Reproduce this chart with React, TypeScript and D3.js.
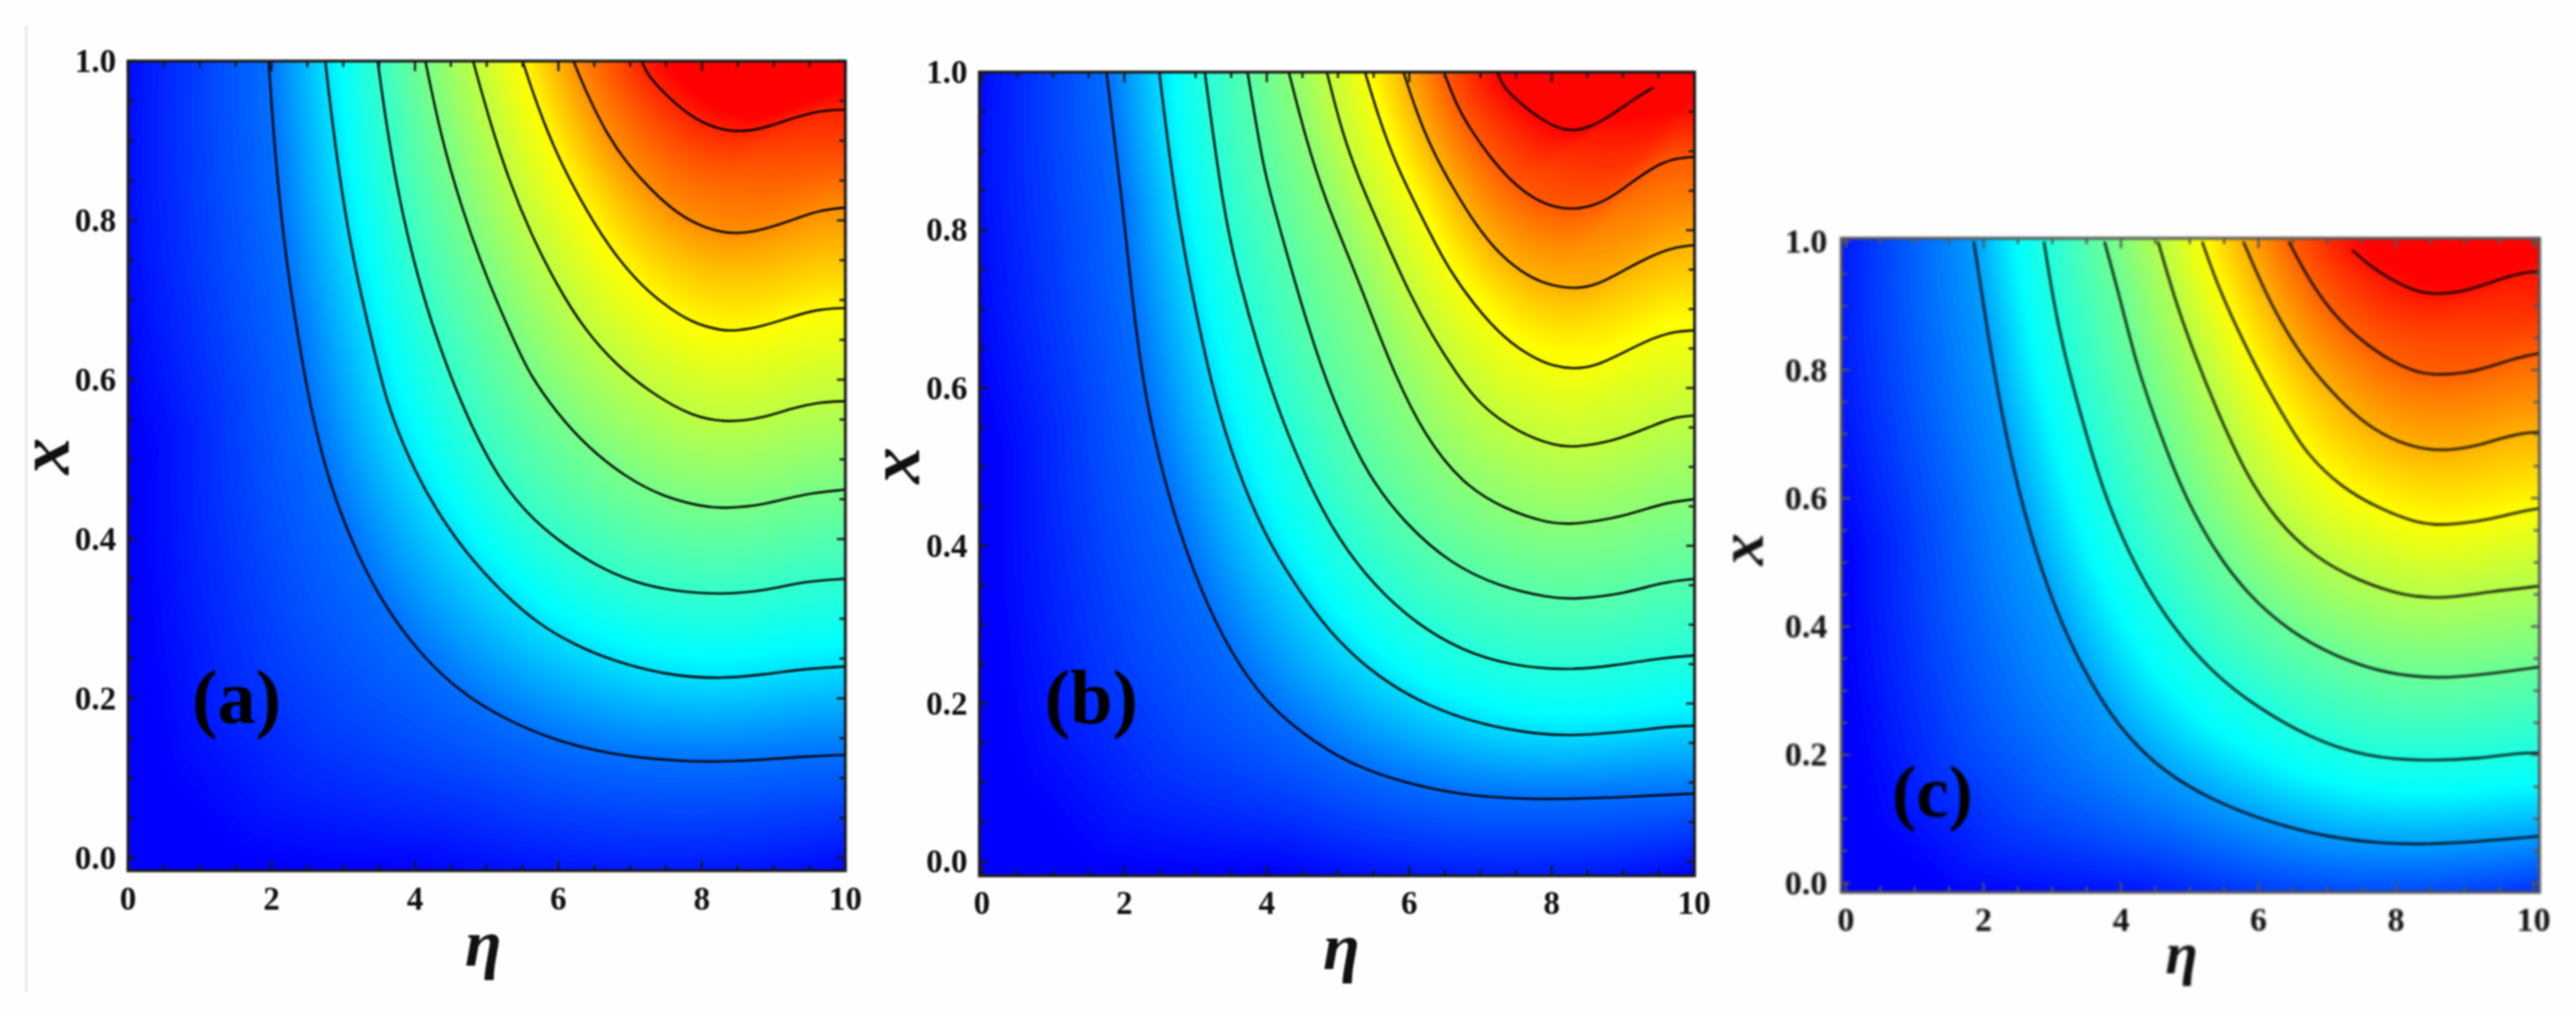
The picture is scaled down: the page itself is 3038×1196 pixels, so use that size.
import React, { useMemo } from "react";
import * as d3 from "d3";

type Pt = [number, number];

const xTickLabels = ["0", "2", "4", "6", "8", "10"];
const yTickLabels = ["0.0", "0.2", "0.4", "0.6", "0.8", "1.0"];
const panelNames = ["(a)", "(b)", "(c)"];

const zeroA: Pt[] = [[0.2, 1.2], [0.2, 0.5], [0.5, 0.1], [1.5, 0.0], [4, -0.02], [10, -0.025]];
const zeroB: Pt[] = [[0.2, 1.2], [0.2, 0.5], [0.5, 0.1], [1.5, -0.005], [4, -0.015], [10, -0.02]];
const zeroC: Pt[] = [[0.0, 1.2], [0.0, 0.5], [0.4, 0.08], [1.5, -0.02], [4, -0.04], [10.2, -0.05]];

const contoursA: Pt[][] = [
  [[1.96, 1], [2.05, 0.88], [2.2, 0.75], [2.394, 0.64], [2.553, 0.56], [2.816, 0.466], [3.186, 0.382], [3.555, 0.319], [4.03, 0.26], [4.56, 0.213], [5.19, 0.176], [5.98, 0.146], [6.77, 0.129], [7.57, 0.122], [8.09, 0.12], [8.89, 0.123], [9.41, 0.127], [10, 0.129]],
  [[2.75, 1], [2.85, 0.92], [3.02, 0.81], [3.2, 0.725], [3.423, 0.64], [3.608, 0.57], [3.925, 0.498], [4.294, 0.436], [4.716, 0.382], [5.19, 0.335], [5.72, 0.293], [6.25, 0.266], [6.77, 0.247], [7.46, 0.23], [8.2, 0.224], [8.89, 0.23], [9.41, 0.237], [10, 0.24]],
  [[3.48, 1], [3.6, 0.92], [3.81, 0.81], [4.125, 0.7], [4.373, 0.635], [4.558, 0.59], [4.874, 0.525], [5.19, 0.474], [5.56, 0.432], [5.98, 0.399], [6.51, 0.367], [7.04, 0.346], [7.57, 0.335], [8.25, 0.33], [8.89, 0.335], [9.41, 0.347], [10, 0.35]],
  [[4.145, 1], [4.36, 0.906], [4.64, 0.818], [4.99, 0.729], [5.4, 0.645], [5.61, 0.605], [5.98, 0.558], [6.4, 0.516], [6.93, 0.478], [7.46, 0.453], [7.99, 0.441], [8.3, 0.438], [8.89, 0.443], [9.41, 0.457], [10, 0.462]],
  [[4.81, 1], [5.03, 0.928], [5.31, 0.85], [5.62, 0.782], [5.98, 0.718], [6.37, 0.662], [6.8, 0.619], [7.28, 0.584], [7.87, 0.553], [8.38, 0.546], [8.85, 0.552], [9.25, 0.564], [9.64, 0.572], [10, 0.573]],
  [[5.5, 1], [5.7, 0.945], [5.98, 0.882], [6.29, 0.828], [6.69, 0.768], [7.08, 0.725], [7.47, 0.694], [7.87, 0.671], [8.26, 0.662], [8.46, 0.661], [8.85, 0.667], [9.25, 0.679], [9.64, 0.689], [10, 0.69]],
  [[6.21, 1], [6.41, 0.956], [6.69, 0.906], [6.96, 0.871], [7.28, 0.839], [7.67, 0.807], [8.07, 0.789], [8.46, 0.782], [8.85, 0.788], [9.25, 0.8], [9.64, 0.813], [10, 0.816]],
  [[7.16, 1], [7.24, 0.983], [7.47, 0.96], [7.75, 0.937], [8.07, 0.919], [8.46, 0.91], [8.85, 0.915], [9.25, 0.928], [9.64, 0.938], [10, 0.939]],
];

const contoursB: Pt[][] = [
  [[1.75, 1], [1.98, 0.83], [2.168, 0.662], [2.38, 0.547], [2.7, 0.437], [3.07, 0.343], [3.5, 0.263], [3.97, 0.203], [4.51, 0.161], [5.14, 0.124], [5.94, 0.099], [6.74, 0.084], [7.54, 0.079], [8.33, 0.079], [9.13, 0.082], [10, 0.086]],
  [[2.49, 1], [2.7, 0.846], [2.9, 0.745], [3.098, 0.655], [3.337, 0.565], [3.656, 0.479], [4.03, 0.403], [4.51, 0.335], [4.98, 0.28], [5.57, 0.233], [6.21, 0.199], [7, 0.173], [7.8, 0.161], [8.33, 0.159], [9.13, 0.165], [9.66, 0.171], [10, 0.172]],
  [[3.13, 1], [3.38, 0.83], [3.6, 0.74], [3.895, 0.645], [4.19, 0.565], [4.56, 0.484], [4.98, 0.411], [5.52, 0.348], [6.1, 0.301], [6.74, 0.267], [7.43, 0.248], [8.23, 0.242], [8.86, 0.248], [9.55, 0.258], [10, 0.261]],
  [[3.73, 1], [3.95, 0.88], [4.07, 0.84], [4.31, 0.76], [4.69, 0.645], [5, 0.57], [5.41, 0.49], [5.94, 0.428], [6.58, 0.377], [7.27, 0.348], [7.96, 0.334], [8.33, 0.332], [9.02, 0.339], [9.55, 0.354], [10, 0.358]],
  [[4.31, 1], [4.55, 0.915], [4.83, 0.836], [5.18, 0.76], [5.46, 0.695], [5.78, 0.62], [6.21, 0.54], [6.74, 0.479], [7.32, 0.447], [7.96, 0.428], [8.33, 0.427], [9.02, 0.437], [9.55, 0.454], [10, 0.459]],
  [[4.845, 1], [5.06, 0.922], [5.34, 0.854], [5.66, 0.789], [6, 0.72], [6.33, 0.665], [6.65, 0.62], [7, 0.577], [7.54, 0.543], [8.07, 0.526], [8.33, 0.525], [8.86, 0.532], [9.39, 0.551], [9.71, 0.563], [10, 0.565]],
  [[5.38, 1], [5.58, 0.94], [5.82, 0.882], [6.13, 0.825], [6.53, 0.753], [6.93, 0.703], [7.32, 0.664], [7.72, 0.639], [8.04, 0.627], [8.32, 0.624], [8.63, 0.628], [9.03, 0.646], [9.43, 0.664], [9.75, 0.672], [10, 0.673]],
  [[5.92, 1], [6.1, 0.95], [6.33, 0.9], [6.61, 0.854], [6.93, 0.807], [7.25, 0.771], [7.56, 0.748], [7.88, 0.732], [8.32, 0.725], [8.63, 0.73], [9.03, 0.75], [9.43, 0.769], [9.75, 0.779], [10, 0.781]],
  [[6.49, 1], [6.65, 0.961], [6.85, 0.929], [7.13, 0.893], [7.44, 0.861], [7.76, 0.839], [8.04, 0.829], [8.32, 0.826], [8.63, 0.832], [8.91, 0.846], [9.23, 0.868], [9.55, 0.886], [9.75, 0.891], [10, 0.893]],
  [[7.24, 1], [7.32, 0.981], [7.56, 0.961], [7.84, 0.941], [8.12, 0.928], [8.32, 0.926], [8.55, 0.931], [8.83, 0.945], [9.15, 0.966], [9.43, 0.981]],
];

const shadeTailB: Pt[] = [[7.24, 1], [7.32, 0.981], [7.56, 0.961], [7.84, 0.941], [8.12, 0.928], [8.32, 0.926], [8.55, 0.931], [8.83, 0.945], [10, 0.965]];

const contoursC: Pt[][] = [
  [[1.86, 1], [2.06, 0.858], [2.29, 0.716], [2.57, 0.584], [2.95, 0.451], [3.39, 0.343], [3.94, 0.244], [4.61, 0.173], [5.38, 0.126], [6.2, 0.093], [7.03, 0.071], [7.75, 0.062], [8.41, 0.06], [9.24, 0.065], [10.09, 0.073]],
  [[2.88, 1], [3.09, 0.858], [3.45, 0.716], [3.72, 0.617], [4.11, 0.513], [4.61, 0.418], [5.27, 0.333], [5.93, 0.277], [6.76, 0.225], [7.58, 0.196], [8.41, 0.19], [9.24, 0.194], [9.79, 0.203], [10.09, 0.203]],
  [[3.76, 1], [3.99, 0.91], [4.235, 0.804], [4.52, 0.716], [4.83, 0.626], [5.27, 0.532], [5.82, 0.451], [6.48, 0.39], [7.14, 0.352], [7.86, 0.326], [8.63, 0.318], [9.35, 0.326], [10.09, 0.337]],
  [[4.54, 1], [4.77, 0.914], [5.06, 0.826], [5.39, 0.738], [5.82, 0.636], [6.26, 0.565], [6.81, 0.508], [7.47, 0.47], [8.13, 0.447], [8.69, 0.443], [9.35, 0.454], [10.09, 0.463]],
  [[5.18, 1], [5.39, 0.936], [5.68, 0.866], [6.05, 0.786], [6.43, 0.716], [6.7, 0.669], [7.2, 0.617], [7.75, 0.584], [8.3, 0.561], [8.69, 0.557], [9.35, 0.566], [9.79, 0.579], [10.09, 0.584]],
  [[5.78, 1], [5.96, 0.954], [6.25, 0.888], [6.62, 0.822], [7.03, 0.769], [7.49, 0.72], [7.94, 0.691], [8.35, 0.677], [8.72, 0.674], [9.13, 0.68], [9.54, 0.694], [9.87, 0.702], [10.09, 0.703]],
  [[6.44, 1], [6.62, 0.963], [6.87, 0.918], [7.2, 0.874], [7.53, 0.843], [7.9, 0.815], [8.31, 0.795], [8.64, 0.792], [9.01, 0.795], [9.34, 0.804], [9.75, 0.819], [10.09, 0.826]],
  [[7.36, 0.987], [7.61, 0.963], [7.94, 0.94], [8.31, 0.921], [8.6, 0.918], [8.93, 0.921], [9.26, 0.932], [9.67, 0.947], [9.955, 0.954], [10.09, 0.952]],
];

const rampColors = ["#0000ff", "#00ffff", "#80ff80", "#ffff00", "#ff0000"];
const rampLevelsA = [0, 2.25, 4.1, 5.95, 8.3];
const rampLevelsB = [0, 2.3, 4.8, 7.1, 10];
const rampLevelsC = [0, 1.6, 3.3, 5, 8.2];

const POLE: Pt = [1.15, 1.15];

function polar(p: Pt): [number, number] {
  const dx = POLE[0] - p[0] / 10;
  const dy = POLE[1] - p[1];
  return [Math.atan2(dy, dx), Math.hypot(dx, dy)];
}

function radiusLookup(pts: Pt[]) {
  const pol = pts.map(polar).sort((a, b) => a[0] - b[0]);
  const th = pol.map((d) => d[0]);
  return (t: number) => {
    if (t <= th[0]) return pol[0][1];
    if (t >= th[th.length - 1]) return pol[pol.length - 1][1];
    const i = d3.bisectRight(th, t);
    const f = (t - th[i - 1]) / (th[i] - th[i - 1] || 1);
    return pol[i - 1][1] + f * (pol[i][1] - pol[i - 1][1]);
  };
}

function makeField(zero: Pt[], contours: Pt[][]) {
  const look = [zero, ...contours].map(radiusLookup);
  return (eta: number, x: number) => {
    const [t, r] = polar([eta, x]);
    const R = look.map((f) => f(t));
    if (r >= R[0]) return 0;
    for (let k = 0; k < R.length - 1; k++) {
      if (r > R[k + 1]) return k + (R[k] - r) / Math.max(R[k] - R[k + 1], 1e-4);
    }
    return R.length - 1 + (R[R.length - 1] - r) / 0.1;
  };
}

const GRID_W = 210;
const GRID_H = 240;

const panels = [
  {
    name: panelNames[0], zero: zeroA, contours: contoursA, shade: contoursA, levels: rampLevelsA,
    x0: 151, x10: 997, y0: 1011.7, y1: 72,
    left: 151, right: 997, top: 72, bottom: 1027,
    yLabelX: 137, xLabelY: 1060,
    etaAt: [570, 1129], xAt: [62, 538], nameAt: [279, 831], nameSize: 90,
    blur: 1, frame: "#1a1a1a", labelSize: 39, titleSize: 86,
  },
  {
    name: panelNames[1], zero: zeroB, contours: contoursB, shade: [...contoursB.slice(0, 9), shadeTailB], levels: rampLevelsB,
    x0: 1158, x10: 1998, y0: 1016, y1: 85.4,
    left: 1155, right: 1998.5, top: 85, bottom: 1033,
    yLabelX: 1141, xLabelY: 1065.6,
    etaAt: [1582, 1133], xAt: [1065, 549], nameAt: [1287, 831], nameSize: 90,
    blur: 1.1, frame: "#1a1a1a", labelSize: 39, titleSize: 86,
  },
  {
    name: panelNames[2], zero: zeroC, contours: contoursC, shade: contoursC, levels: rampLevelsC,
    x0: 2177, x10: 2988, y0: 1041.5, y1: 285,
    left: 2171.5, right: 2995, top: 281, bottom: 1052.5,
    yLabelX: 2155, xLabelY: 1085,
    etaAt: [2573, 1139], xAt: [2062, 648], nameAt: [2279, 942], nameSize: 86,
    blur: 1.8, frame: "#555555", labelSize: 40, titleSize: 76,
  },
];

const FONT = "'Liberation Serif', 'Times New Roman', serif";

function Panel({ p, idx }: { p: (typeof panels)[number]; idx: number }) {
  const xs = d3.scaleLinear().domain([0, 10]).range([p.x0, p.x10]);
  const ys = d3.scaleLinear().domain([0, 1]).range([p.y0, p.y1]);
  const color = d3
    .scaleLinear<string>()
    .domain(p.levels)
    .range(rampColors)
    .interpolate(d3.interpolateRgb)
    .clamp(true);

  const bands = useMemo(() => {
    const field = makeField(p.zero, p.shade);
    const w = p.right - p.left;
    const h = p.bottom - p.top;
    const values = new Array(GRID_W * GRID_H);
    for (let j = 0; j < GRID_H; j++) {
      for (let i = 0; i < GRID_W; i++) {
        const px = p.left + ((i + 0.5) / GRID_W) * w;
        const py = p.top + ((j + 0.5) / GRID_H) * h;
        values[j * GRID_W + i] = field(xs.invert(px), ys.invert(py));
      }
    }
    const top = p.levels[p.levels.length - 1];
    const thresholds = d3.range(0.02, top + 0.02, top / 200);
    const gen = d3.contours().size([GRID_W, GRID_H]).thresholds(thresholds);
    const path = d3.geoPath();
    return gen(values).map((c: any) => ({ v: c.value, d: path(c) as string }));
  }, []);

  const line = d3
    .line<Pt>()
    .x((d) => xs(d[0]))
    .y((d) => ys(d[1]))
    .curve(d3.curveBasis);

  const clipId = `clip-${idx}`;
  const xTicks = xTickLabels.map(Number);
  const yTicks = yTickLabels.map(Number);
  const xMinor = d3.range(0, 21).map((d) => d / 2);
  const yMinor = d3.range(0, 21).map((d) => d / 20);
  const isMajX = (v: number) => xTicks.includes(v);
  const isMajY = (v: number) => yTicks.some((t) => Math.abs(t - v) < 1e-6);

  return (
    <g filter={`url(#blur-${idx})`}>
      <clipPath id={clipId}>
        <rect x={p.left} y={p.top} width={p.right - p.left} height={p.bottom - p.top} />
      </clipPath>
      <rect x={p.left} y={p.top} width={p.right - p.left} height={p.bottom - p.top} fill="#0000ff" />
      <g transform={`translate(${p.left},${p.top}) scale(${(p.right - p.left) / GRID_W},${(p.bottom - p.top) / GRID_H})`}>
        {bands.map((b, i) => (
          <path key={i} d={b.d} fill={color(b.v)} />
        ))}
      </g>
      <g clipPath={`url(#${clipId})`} fill="none" stroke="#000" strokeWidth={2.6}>
        {p.contours.map((c, i) => (
          <path key={i} d={line(c) as string} />
        ))}
      </g>
      <g stroke={p.frame} strokeWidth={2.6}>
        {xMinor.map((v) => {
          const l = isMajX(v) ? 12 : 7;
          return (
            <g key={v}>
              <line x1={xs(v)} x2={xs(v)} y1={p.bottom} y2={p.bottom - l} />
              <line x1={xs(v)} x2={xs(v)} y1={p.top} y2={p.top + l} />
            </g>
          );
        })}
        {yMinor.map((v) => {
          const l = isMajY(v) ? 10 : 7;
          return (
            <g key={v}>
              <line x1={p.left} x2={p.left + l} y1={ys(v)} y2={ys(v)} />
              <line x1={p.right} x2={p.right - l} y1={ys(v)} y2={ys(v)} />
            </g>
          );
        })}
      </g>
      <rect x={p.left} y={p.top} width={p.right - p.left} height={p.bottom - p.top} fill="none" stroke={p.frame} strokeWidth={3.4} />
      <g fontFamily={FONT} fontWeight="bold" fontSize={p.labelSize} fill="#111">
        {xTickLabels.map((t) => (
          <text key={t} x={xs(+t)} y={p.xLabelY + p.labelSize * 0.33} textAnchor="middle">{t}</text>
        ))}
        {yTickLabels.map((t) => (
          <text key={t} x={p.yLabelX} y={ys(+t) + p.labelSize * 0.33} textAnchor="end">{t}</text>
        ))}
      </g>
      <g fontFamily={FONT} fontWeight="bold" fontStyle="italic" fill="#111" textAnchor="middle">
        <text x={p.etaAt[0]} y={p.etaAt[1] + p.titleSize * 0.12} fontSize={p.titleSize * 0.92}>η</text>
        <text fontSize={p.titleSize} transform={`translate(${p.xAt[0]},${p.xAt[1]}) rotate(-90)`} dy={p.titleSize * 0.22}>x</text>
      </g>
      <text x={p.nameAt[0]} y={p.nameAt[1] + p.nameSize * 0.24} fontFamily={FONT} fontWeight="bold" fontSize={p.nameSize} fill="#000" textAnchor="middle">{p.name}</text>
    </g>
  );
}

export default function App() {
  return (
    <svg
      width={3038}
      height={1196}
      viewBox="0 0 3038 1196"
      style={{ position: "absolute", left: 0, top: 0, display: "block", background: "#fefefe" }}
    >
      <defs>
        {panels.map((p, i) => (
          <filter key={i} id={`blur-${i}`} filterUnits="userSpaceOnUse" x={0} y={0} width={3038} height={1196} colorInterpolationFilters="sRGB">
            <feGaussianBlur stdDeviation={p.blur} />
          </filter>
        ))}
      </defs>
      <rect x={29} y={30} width={4} height={1140} fill="#efefef" />
      {panels.map((p, i) => (
        <Panel key={i} p={p} idx={i} />
      ))}
    </svg>
  );
}
